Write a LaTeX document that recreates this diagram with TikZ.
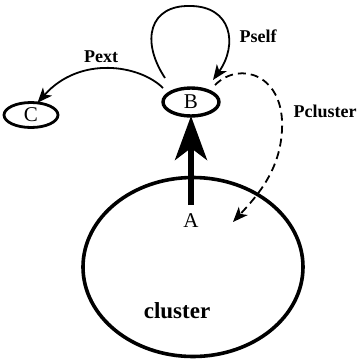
\documentclass[tikz,border=0pt]{standalone}
\usepackage{fontspec}
\setmainfont{Liberation Serif}
\usetikzlibrary{arrows.meta,shapes.geometric}
\begin{document}
\begin{tikzpicture}[x=1pt,y=-1pt,
  every node/.style={inner sep=0pt,outer sep=0pt},
  letter/.style={font=\fontsize{21}{23}\selectfont},
  plabel/.style={font=\bfseries\fontsize{18}{20}\selectfont},
  link/.style={line width=1.8pt,-{Stealth[length=15pt,width=12pt,inset=4pt]}},
  dlink/.style={link,dash pattern=on 8pt off 5pt}]
\useasboundingbox (0,0) rectangle (358,359);

% the cluster and its entry point
\node[draw,ellipse,line width=3.6pt,minimum width=220pt,minimum height=179pt] (cl) at (193,267) {};
\node[font=\bfseries\fontsize{23}{25}\selectfont] (cltext) at (177,311) {cluster};
\node[letter] (A) at (191,221) {A};

% the particles B and C
\node[draw,ellipse,line width=3.4pt,minimum width=56pt,minimum height=28pt,letter] (B) at (191,102) {B};
\node[draw,ellipse,line width=2.8pt,minimum width=54pt,minimum height=25pt,letter] (C) at (31,115) {C};

% move from A up to B
\draw[line width=5.5pt,-{Stealth[length=44pt,width=32pt,inset=12pt]}]
  ([yshift=16pt]A.center) -- (B.south);

% self transition
\draw[link] ([shift={(-26,-24)}]B.center)
  .. controls (140,40) and (150,5) .. (190,6)
  .. controls (232,6) and (238,45) .. ([shift={(22,-22)}]B.center);
\node[plabel] (pself) at (258,36) {Pself};

% transition to the outside particle C
\draw[link] ([shift={(-28,-14)}]B.center)
  .. controls (140,65) and (80,55) .. (C.62);
\node[plabel] (pext) at (101,57) {Pext};

% transition back into the cluster
\draw[dlink] ([shift={(24,-17)}]B.center)
  .. controls (240,60) and (285,75) .. (282,130)
  .. controls (280,170) and (258,195) .. (233,222);
\node[plabel] (pcl) at (325,111) {Pcluster};
\end{tikzpicture}
\end{document}
